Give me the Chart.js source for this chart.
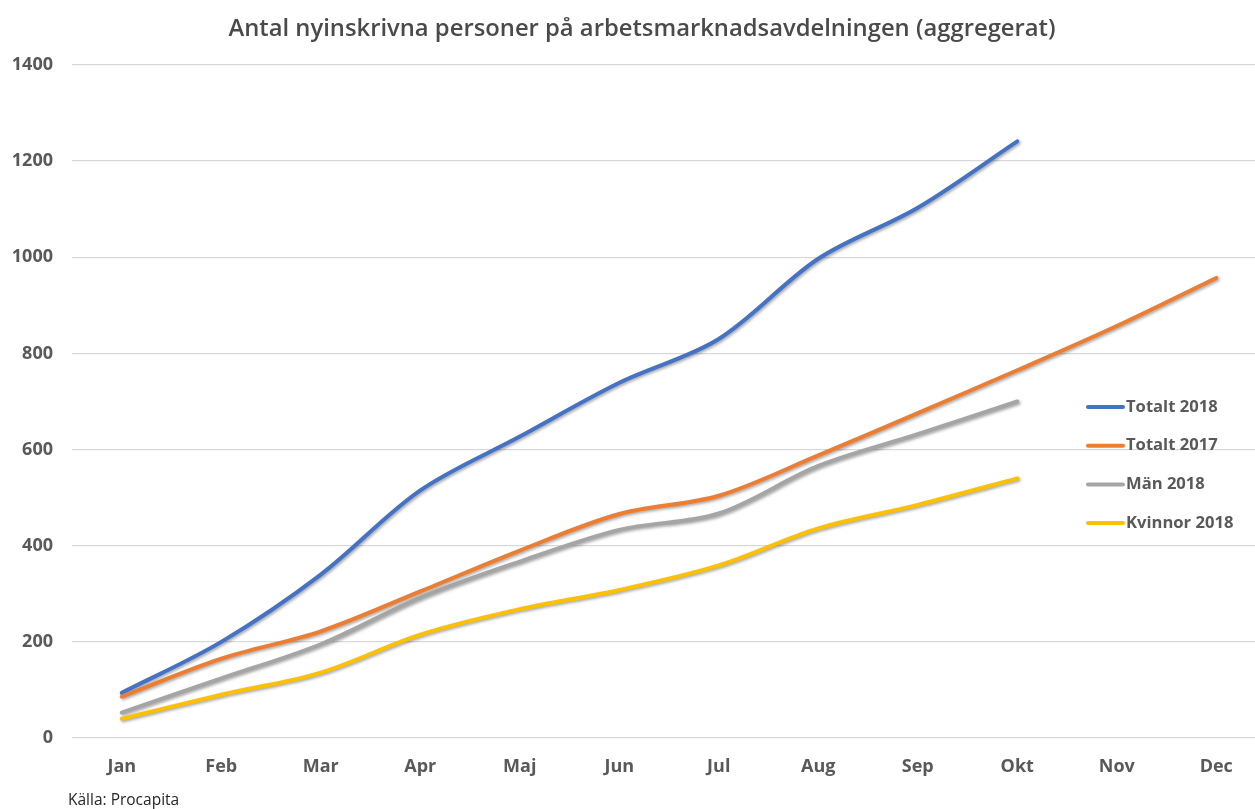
<!DOCTYPE html>
<html lang="sv">
<head>
<meta charset="utf-8">
<title>Antal nyinskrivna personer</title>
<script src="https://cdn.jsdelivr.net/npm/chart.js@4/dist/chart.umd.min.js"></script>
<style>
  html, body { margin: 0; padding: 0; background: #fff; }
  #frame { position: relative; width: 1255px; height: 809px; overflow: hidden; }
  #wrap { position: absolute; left: 0; top: 0; width: 1284px; height: 809px; }
  #title { position: absolute; left: 0; top: 10px; width: 1284px; text-align: center;
           font: 600 23.8px/34px "Open Sans", sans-serif; color: #4a4a4a; white-space: nowrap; }
  #source { position: absolute; left: 68px; top: 788px; font: 400 15.5px "Open Sans", sans-serif; color: #262626; }
</style>
</head>
<body>
<div id="frame">
  <div id="wrap"><canvas id="chart"></canvas></div>
  <div id="title">Antal nyinskrivna personer på arbetsmarknadsavdelningen (aggregerat)</div>
  <div id="source">Källa: Procapita</div>
</div>
<script>
// månader på x-axeln
const months = ['Jan', 'Feb', 'Mar', 'Apr', 'Maj', 'Jun', 'Jul', 'Aug', 'Sep', 'Okt', 'Nov', 'Dec'];
const yTicks = [0, 200, 400, 600, 800, 1000, 1200, 1400];

// avlästa värden (ackumulerat)
const totalt2018 = [94, 200, 340, 515, 627, 739, 830, 997, 1103, 1241, null, null];
const totalt2017 = [86, 165, 222, 305, 390, 466, 504, 588, 676, 765, 857, 957];
const man2018 = [53, 124, 195, 292, 367, 433, 467, 566, 632, 700, null, null];
const kvinnor2018 = [40, 90, 136, 215, 268, 308, 359, 436, 485, 540, null, null];

const seriesNames = ['Totalt 2018', 'Totalt 2017', 'Män 2018', 'Kvinnor 2018'];
const seriesColors = ['#4472C4', '#ED7D31', '#A5A5A5', '#FFC000'];
const seriesData = [totalt2018, totalt2017, man2018, kvinnor2018];

const TEXT = '#595959';
const FONT = '"Open Sans", sans-serif';

// Excel-lik skugga under linjerna
const shadowPlugin = {
  id: 'lineShadow',
  beforeDatasetDraw(chart) {
    const ctx = chart.ctx;
    ctx.save();
    ctx.shadowColor = 'rgba(0,0,0,0.35)';
    ctx.shadowBlur = 3;
    ctx.shadowOffsetX = 1.5;
    ctx.shadowOffsetY = 1.5;
  },
  afterDatasetDraw(chart) {
    chart.ctx.restore();
  }
};

// legend inne i diagramytan, till höger
const insideLegend = {
  id: 'insideLegend',
  afterDatasetsDraw(chart) {
    const ctx = chart.ctx;
    const area = chart.chartArea;
    const x0 = area.right - 178;
    let y = area.top + 342;
    ctx.save();
    ctx.font = '700 16.6px ' + FONT;
    ctx.textBaseline = 'middle';
    chart.data.datasets.forEach(ds => {
      ctx.strokeStyle = ds.borderColor;
      ctx.lineWidth = 4;
      ctx.lineCap = 'round';
      ctx.beginPath();
      ctx.moveTo(x0, y);
      ctx.lineTo(x0 + 35, y);
      ctx.stroke();
      ctx.fillStyle = TEXT;
      ctx.fillText(ds.label, x0 + 38, y);
      y += 38.7;
    });
    ctx.restore();
  }
};

new Chart(document.getElementById('chart'), {
  type: 'line',
  data: {
    labels: months,
    datasets: seriesNames.map((name, i) => ({
      label: name,
      data: seriesData[i],
      borderColor: seriesColors[i],
      backgroundColor: seriesColors[i],
      borderWidth: 4,
      borderCapStyle: 'round',
      borderJoinStyle: 'round',
      pointRadius: 0,
      tension: 0.33,
      fill: false,
      order: seriesNames.length - i
    }))
  },
  options: {
    responsive: true,
    maintainAspectRatio: false,
    animation: false,
    layout: { padding: { left: 0, right: 18, top: 65, bottom: 0 } },
    plugins: {
      legend: { display: false },
      tooltip: { enabled: false },
      title: { display: false }
    },
    scales: {
      x: {
        offset: true,
        grid: { display: false, drawTicks: false },
        border: { display: false },
        ticks: { color: TEXT, font: { family: FONT, size: 18, weight: '700' }, padding: 18, maxRotation: 0 },
        afterFit(scale) { scale.height = 71; }
      },
      y: {
        min: 0,
        max: 1400,
        afterBuildTicks(scale) { scale.ticks = yTicks.map(v => ({ value: v })); },
        grid: { color: '#D9D9D9', lineWidth: 1.3, drawTicks: false },
        border: { display: false },
        ticks: {
          color: TEXT,
          font: { family: FONT, size: 18, weight: '700' },
          padding: 19,
          callback: v => String(v)
        },
        afterFit(scale) { scale.width = 72; }
      }
    }
  },
  plugins: [shadowPlugin, insideLegend]
});
</script>
</body>
</html>
